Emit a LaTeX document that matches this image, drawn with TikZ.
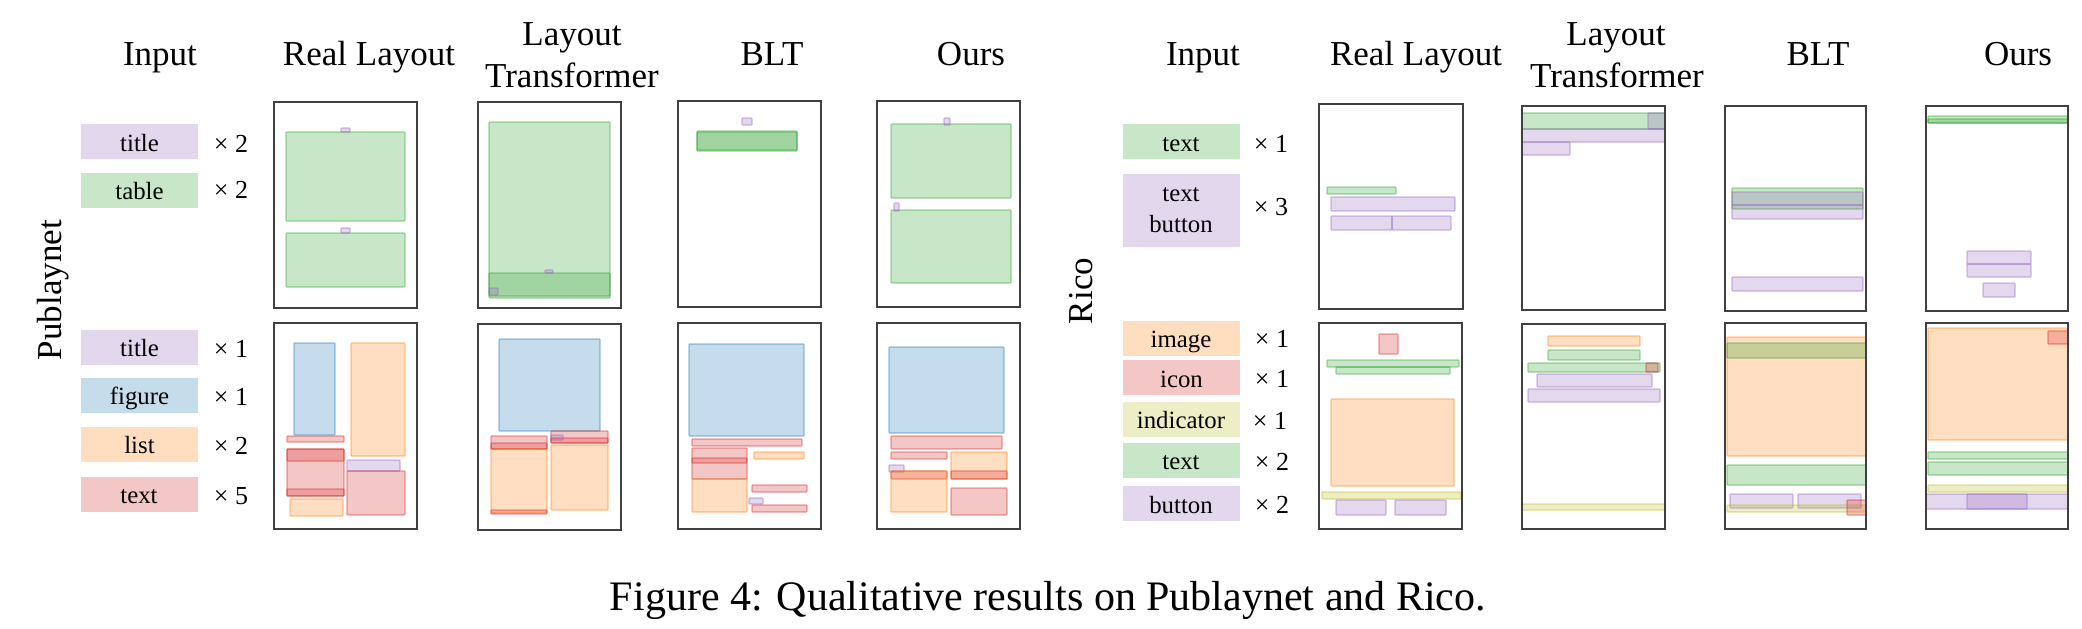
\documentclass[tikz,border=0pt]{standalone}
\usepackage{fontspec}
\setmainfont{Liberation Serif}
\definecolor{tpur}{RGB}{148,103,189}
\definecolor{tgrn}{RGB}{44,160,44}
\definecolor{tblu}{RGB}{31,119,180}
\definecolor{tora}{RGB}{255,127,14}
\definecolor{tred}{RGB}{214,39,40}
\definecolor{toli}{RGB}{188,189,34}
\newcommand\LB[5]{\draw[#1] (#2,#3) rectangle (#4,#5);}
\begin{document}
\begin{tikzpicture}[x=0.5pt,y=-0.5pt,
  laybox/.style={draw=#1, draw opacity=0.45, fill=#1, fill opacity=0.26, line width=0.6pt, rounded corners=0.4pt},
  pur/.style={laybox=tpur}, grn/.style={laybox=tgrn}, blu/.style={laybox=tblu},
  ora/.style={laybox=tora}, rd/.style={laybox=tred}, oli/.style={laybox=toli},
  panelframe/.style={draw=black!75, line width=1pt},
  hdr/.style={font=\fontsize{17.5}{21}\selectfont, inner sep=0pt},
  sidelabel/.style={font=\fontsize{17.5}{21}\selectfont, inner sep=0pt, rotate=90},
  inbase/.style={fill=#1!26!white, inner sep=0pt, minimum width=58.5pt, minimum height=17.5pt,
     font=\fontsize{12.4}{15.5}\selectfont},
  inbox/.style={inbase=#1, text height=10pt, text depth=0.5pt},
  mult/.style={font=\fontsize{13}{15}\selectfont, inner sep=0pt},
  captext/.style={font=\fontsize{21}{25}\selectfont, inner sep=0pt}]
\useasboundingbox (0,0) rectangle (2082,628);

% ---------- headers ----------
\node[hdr, anchor=base] (hin1) at (160,65) {Input};
\node[hdr, anchor=base] (hrl1) at (369,65) {Real Layout};
\node[hdr, anchor=base] (hlt1a) at (572,45) {Layout};
\node[hdr, anchor=base] (hlt1b) at (572,87) {Transformer};
\node[hdr, anchor=base] (hblt1) at (772,65) {BLT};
\node[hdr, anchor=base] (hour1) at (971,65) {Ours};
\node[hdr, anchor=base] (hin2) at (1203,65) {Input};
\node[hdr, anchor=base] (hrl2) at (1416,65) {Real Layout};
\node[hdr, anchor=base] (hlt2a) at (1616,45) {Layout};
\node[hdr, anchor=base] (hlt2b) at (1617,87) {Transformer};
\node[hdr, anchor=base] (hblt2) at (1818,65) {BLT};
\node[hdr, anchor=base] (hour2) at (2018,65) {Ours};

\node[sidelabel] (spub) at (53,290) {Publaynet};
\node[sidelabel] (srico) at (1081,291) {Rico};

% ---------- Publaynet inputs ----------
\node[inbox=tpur] (pa1) at (139.5,141.5) {title};
\node[inbox=tgrn] (pa2) at (139.5,190) {table};
\node[mult, anchor=base] (pm1) at (231,152) {× 2};
\node[mult, anchor=base] (pm2) at (231,198) {× 2};
\node[inbox=tpur] (pb1) at (139.5,347) {title};
\node[inbox=tblu] (pb2) at (139.5,395) {figure};
\node[inbox=tora] (pb3) at (139.5,444) {list};
\node[inbox=tred] (pb4) at (139,494) {text};
\node[mult, anchor=base] (pm3) at (231,357) {× 1};
\node[mult, anchor=base] (pm4) at (231,405) {× 1};
\node[mult, anchor=base] (pm5) at (231,454) {× 2};
\node[mult, anchor=base] (pm6) at (231,504) {× 5};

% ---------- Rico inputs ----------
\node[inbox=tgrn] (ra1) at (1181,141.5) {text};
\node[inbase=tpur, minimum height=36.5pt, align=center] (ra2) at (1181,210.5) {text\\button};
\node[mult, anchor=base] (rm1) at (1271,152) {× 1};
\node[mult, anchor=base] (rm2) at (1271,215) {× 3};
\node[inbox=tora] (rb1) at (1181,338) {image};
\node[inbox=tred] (rb2) at (1181.5,377.5) {icon};
\node[inbox=toli] (rb3) at (1181,419) {indicator};
\node[inbox=tgrn] (rb4) at (1181,460) {text};
\node[inbox=tpur] (rb5) at (1181,503.5) {button};
\node[mult, anchor=base] (rm3) at (1272,347) {× 1};
\node[mult, anchor=base] (rm4) at (1272,387) {× 1};
\node[mult, anchor=base] (rm5) at (1270,429) {× 1};
\node[mult, anchor=base] (rm6) at (1272,470) {× 2};
\node[mult, anchor=base] (rm7) at (1272,513) {× 2};

% ---------- Publaynet row 1 ----------
\LB{grn}{286}{132}{405}{221}
\LB{pur}{341}{128}{350}{132}
\LB{grn}{286}{233}{405}{287}
\LB{pur}{341}{228}{350}{233}
\LB{grn}{489}{122}{610}{298}
\LB{grn}{489}{273}{610}{296}
\LB{pur}{545}{270}{553}{273}
\LB{pur}{489}{288}{498}{295}
\LB{pur}{742}{118}{752}{125}
\LB{grn}{697}{131}{797}{151}
\LB{grn}{697}{132}{797}{150}
\LB{grn}{891}{124}{1011}{198}
\LB{pur}{944}{118}{950}{125}
\LB{grn}{891}{210}{1011}{283}
\LB{pur}{894}{203}{899}{211}

% ---------- Publaynet row 2 ----------
\LB{blu}{294}{343}{335}{435}
\LB{ora}{351}{343}{405}{456}
\LB{rd}{287}{436}{344}{442}
\LB{rd}{287}{449}{344}{496}
\LB{rd}{287}{449}{344}{461}
\LB{rd}{287}{489}{344}{496}
\LB{ora}{290}{499}{343}{516}
\LB{pur}{347}{460}{400}{471}
\LB{rd}{347}{471}{405}{515}
\LB{blu}{499}{339}{600}{431}
\LB{rd}{491}{436}{547}{449}
\LB{rd}{491}{443}{547}{449}
\LB{ora}{491}{449}{547}{513}
\LB{rd}{491}{510}{547}{514}
\LB{rd}{551}{431}{608}{443}
\LB{rd}{551}{438}{608}{443}
\LB{pur}{551}{435}{563}{440}
\LB{ora}{551}{445}{608}{510}
\LB{blu}{689}{344}{804}{436}
\LB{rd}{692}{439}{802}{446}
\LB{rd}{692}{448}{747}{463}
\LB{rd}{692}{458}{747}{479}
\LB{ora}{692}{479}{747}{512}
\LB{ora}{754}{452}{804}{459}
\LB{rd}{752}{485}{807}{492}
\LB{pur}{749}{498}{763}{504}
\LB{rd}{752}{505}{807}{512}
\LB{blu}{889}{347}{1004}{433}
\LB{rd}{891}{436}{1002}{449}
\LB{rd}{891}{452}{947}{459}
\LB{pur}{889}{465}{904}{472}
\LB{rd}{891}{471}{947}{479}
\LB{ora}{891}{471}{947}{512}
\LB{ora}{951}{452}{1007}{479}
\LB{rd}{951}{471}{1007}{479}
\LB{rd}{951}{488}{1007}{515}

% ---------- Rico row 1 ----------
\LB{grn}{1327}{187}{1396}{194}
\LB{pur}{1331}{197}{1455}{211}
\LB{pur}{1331}{216}{1392}{230}
\LB{pur}{1392}{216}{1451}{230}
\LB{grn}{1522}{113}{1665}{129}
\LB{pur}{1648}{113}{1665}{129}
\LB{pur}{1522}{129}{1665}{142}
\LB{pur}{1522}{142}{1570}{155}
\LB{grn}{1732}{188}{1863}{209}
\LB{pur}{1732}{192}{1863}{205}
\LB{pur}{1732}{205}{1863}{219}
\LB{pur}{1732}{277}{1863}{291}
\LB{grn}{1928}{116}{2068}{123}
\LB{grn}{1928}{119}{2068}{123}
\LB{pur}{1967}{251}{2031}{264}
\LB{pur}{1967}{264}{2031}{277}
\LB{pur}{1983}{283}{2015}{297}

% ---------- Rico row 2 ----------
\LB{rd}{1379}{334}{1398}{354}
\LB{grn}{1327}{360}{1459}{367}
\LB{grn}{1336}{367}{1450}{374}
\LB{ora}{1331}{399}{1454}{486}
\LB{oli}{1322}{492}{1461}{499}
\LB{pur}{1336}{500}{1386}{515}
\LB{pur}{1395}{500}{1446}{515}
\LB{ora}{1548}{336}{1640}{346}
\LB{grn}{1548}{350}{1640}{360}
\LB{grn}{1528}{363}{1660}{372}
\LB{rd}{1646}{363}{1658}{372}
\LB{pur}{1537}{374}{1652}{387}
\LB{pur}{1528}{389}{1660}{402}
\LB{oli}{1522}{504}{1665}{510}
\LB{ora}{1727}{337}{1866}{456}
\LB{grn}{1727}{343}{1866}{358}
\LB{grn}{1727}{465}{1866}{485}
\LB{pur}{1730}{494}{1793}{508}
\LB{pur}{1798}{494}{1861}{508}
\LB{oli}{1727}{505}{1866}{512}
\LB{rd}{1847}{500}{1866}{515}
\LB{ora}{1928}{328}{2068}{440}
\LB{rd}{2048}{331}{2068}{344}
\LB{grn}{1928}{452}{2068}{459}
\LB{grn}{1928}{462}{2068}{475}
\LB{oli}{1928}{485}{2068}{492}
\LB{pur}{1926}{494}{2068}{509}
\LB{pur}{1967}{494}{2027}{509}

% ---------- frames ----------
\draw[panelframe] (274,102) rectangle (417,308);
\draw[panelframe] (478,102) rectangle (621,308);
\draw[panelframe] (678,101) rectangle (821,307);
\draw[panelframe] (877,101) rectangle (1020,307);
\draw[panelframe] (274,323) rectangle (417,529);
\draw[panelframe] (478,324) rectangle (621,530);
\draw[panelframe] (678,323) rectangle (821,529);
\draw[panelframe] (877,323) rectangle (1020,529);
\draw[panelframe] (1319,104) rectangle (1463,309);
\draw[panelframe] (1522,106) rectangle (1665,310);
\draw[panelframe] (1725,106) rectangle (1866,311);
\draw[panelframe] (1926,106) rectangle (2068,311);
\draw[panelframe] (1319,323) rectangle (1462,529);
\draw[panelframe] (1522,324) rectangle (1665,529);
\draw[panelframe] (1725,323) rectangle (1866,529);
\draw[panelframe] (1926,323) rectangle (2068,529);

% ---------- caption ----------
\node[captext, anchor=base] (caption) at (1048,610) {Figure 4: Qualitative results on Publaynet and Rico.};
\end{tikzpicture}
\end{document}
